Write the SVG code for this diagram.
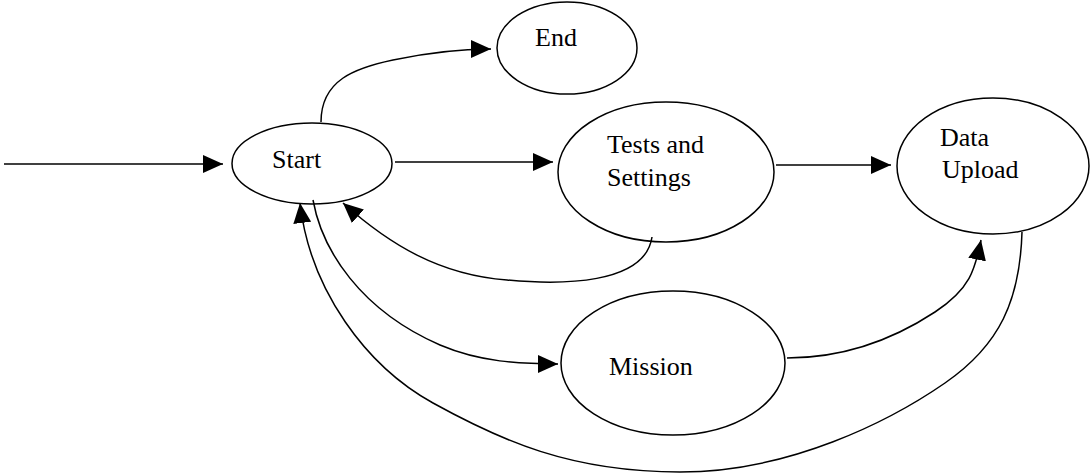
<svg xmlns="http://www.w3.org/2000/svg" width="1091" height="473" viewBox="0 0 1091 473">
<style>
.node ellipse{fill:#fff;stroke:#000;stroke-width:1.5}
.node text{font-family:"Liberation Serif","Times New Roman",serif;font-size:26px;fill:#000}
.conn path,.conn line{fill:none;stroke:#000;stroke-width:1.5;marker-end:url(#arr)}
</style>
<defs>
<marker id="arr" markerUnits="userSpaceOnUse" markerWidth="20" markerHeight="18" refX="20" refY="9" orient="auto">
<path d="M0,0 L20,9 L0,18 z" fill="#000"/>
</marker>
</defs>
<g id="node-start" class="node">
<ellipse cx="312" cy="163.5" rx="80" ry="40.5"/>
<text x="272" y="168">Start</text>
</g>
<g id="node-end" class="node">
<ellipse cx="567" cy="48" rx="70" ry="46"/>
<text x="535" y="46">End</text>
</g>
<g id="node-tests" class="node">
<ellipse cx="666" cy="172" rx="108" ry="70"/>
<text x="607" y="153">Tests and</text>
<text x="607" y="186">Settings</text>
</g>
<g id="node-data" class="node">
<ellipse cx="993" cy="166" rx="96" ry="68"/>
<text x="940" y="146">Data</text>
<text x="942" y="178">Upload</text>
</g>
<g id="node-mission" class="node">
<ellipse cx="673" cy="363" rx="112" ry="72"/>
<text x="609" y="375">Mission</text>
</g>
<g id="connectors" class="conn">
<line x1="4" y1="164" x2="223" y2="164"/>
<line x1="395" y1="162" x2="553" y2="162"/>
<line x1="776" y1="165" x2="891" y2="165"/>
<path d="M321,122 C321,80 355,68 393,60 S460,49 491,49"/>
<path d="M652,237 C645,285 560,285 507,280 C440,275 390,245 343,203"/>
<path d="M313,200 C322,250 360,310 440,345 C480,362 520,364 558,364"/>
<path d="M787,358 C850,358 900,335 935,312 S975,270 981,240"/>
<path d="M1022,232 C1020,300 1000,345 945,383 S790,472 680,472 S500,440 433,403 S310,290 300,203"/>
</g>
</svg>
